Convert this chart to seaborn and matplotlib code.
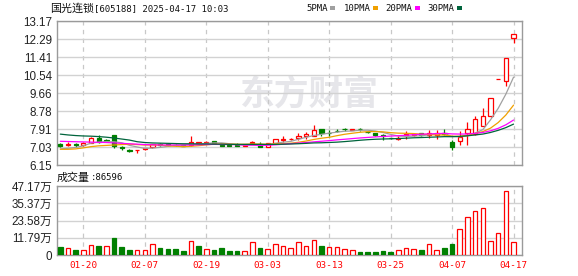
import numpy as np
import pandas as pd
import matplotlib
matplotlib.use("Agg")
import matplotlib.pyplot as plt
import seaborn as sns

# ---------------- data ----------------
dates = ["01-15", "01-16", "01-17", "01-20", "01-21", "01-22", "01-23", "01-24", "01-27",
         "02-05", "02-06", "02-07", "02-10", "02-11", "02-12", "02-13", "02-14", "02-17",
         "02-18", "02-19", "02-20", "02-21", "02-24", "02-25", "02-26", "02-27", "02-28",
         "03-03", "03-04", "03-05", "03-06", "03-07", "03-10", "03-11", "03-12", "03-13",
         "03-14", "03-17", "03-18", "03-19", "03-20", "03-21", "03-24", "03-25", "03-26",
         "03-27", "03-28", "03-31", "04-01", "04-02", "04-03", "04-07", "04-08", "04-09",
         "04-10", "04-11", "04-14", "04-15", "04-16", "04-17"]

opens = [7.18, 7.12, 7.18, 7.14, 7.26, 7.46, 7.40, 7.62, 7.02, 6.89,
         6.90, 6.93, 7.02, 7.19, 7.18, 7.15, 7.13, 7.12, 7.26, 7.26,
         7.33, 7.14, 7.12, 7.12, 7.09, 7.25, 7.18, 7.06, 7.24, 7.40,
         7.42, 7.48, 7.56, 7.59, 7.91, 7.74, 7.84, 7.92, 7.86, 7.92,
         7.77, 7.72, 7.65, 7.48, 7.43, 7.62, 7.61, 7.72, 7.62, 7.62,
         7.72, 7.31, 7.34, 7.74, 7.66, 8.07, 8.53, 10.35, 10.27, 12.34]
highs = [7.22, 7.28, 7.23, 7.30, 7.52, 7.62, 7.44, 7.64, 7.10, 6.95,
         6.91, 7.01, 7.20, 7.26, 7.20, 7.18, 7.15, 7.57, 7.31, 7.33,
         7.33, 7.16, 7.13, 7.25, 7.14, 7.35, 7.27, 7.24, 7.43, 7.56,
         7.46, 7.72, 7.75, 8.12, 7.91, 7.88, 7.91, 7.99, 7.93, 7.96,
         7.78, 7.72, 7.66, 7.49, 7.56, 7.84, 7.72, 7.73, 7.88, 7.86,
         7.91, 7.38, 7.81, 8.24, 8.53, 8.93, 9.41, 10.35, 11.39, 12.53]
lows = [7.02, 7.09, 7.06, 7.08, 7.24, 7.25, 7.30, 6.98, 6.90, 6.78,
        6.76, 6.92, 7.00, 7.10, 7.11, 7.10, 7.09, 7.11, 7.18, 7.17,
        7.22, 7.09, 7.08, 7.07, 7.08, 7.17, 7.04, 7.04, 7.22, 7.27,
        7.40, 7.40, 7.43, 7.56, 7.56, 7.56, 7.75, 7.83, 7.85, 7.81,
        7.73, 7.60, 7.37, 7.44, 7.37, 7.45, 7.58, 7.60, 7.50, 7.42,
        7.62, 6.92, 7.13, 7.13, 7.62, 8.05, 8.50, 10.35, 10.03, 12.09]
closes = [7.09, 7.20, 7.14, 7.24, 7.49, 7.31, 7.34, 7.10, 7.00, 6.87,
          6.91, 6.99, 7.18, 7.16, 7.13, 7.12, 7.11, 7.31, 7.27, 7.28,
          7.25, 7.11, 7.10, 7.09, 7.12, 7.27, 7.06, 7.22, 7.42, 7.43,
          7.44, 7.59, 7.69, 7.86, 7.72, 7.73, 7.83, 7.91, 7.92, 7.90,
          7.75, 7.62, 7.56, 7.46, 7.49, 7.66, 7.70, 7.63, 7.71, 7.72,
          7.70, 7.04, 7.54, 7.92, 8.40, 8.55, 9.41, 10.35, 11.39, 12.53]
prev_close_before = 7.13

# volume in 万 shares
volumes = [5.5, 4.6, 3.4, 3.4, 6.6, 6.2, 6.2, 11.6, 5.5, 3.4,
           3.4, 3.4, 7.3, 4.8, 4.3, 4.3, 2.7, 9.3, 6.2, 3.9,
           3.4, 4.8, 2.7, 2.7, 2.5, 8.7, 4.8, 3.9, 7.3, 5.9,
           4.6, 8.7, 5.9, 10.0, 6.2, 5.2, 5.2, 3.9, 3.2, 2.1,
           2.1, 2.1, 2.7, 2.1, 3.2, 4.6, 3.9, 3.4, 7.3, 3.2,
           4.8, 7.5, 17.8, 25.7, 29.8, 31.9, 9.3, 14.8, 43.5, 8.66]

# moving-average values before each window is complete
ma5_lead = [6.95, 6.98, 7.02, 7.10]
ma10_lead = [6.93, 6.93, 6.95, 7.00, 7.06, 7.10, 7.12, 7.14, 7.16]
ma20_lead = [7.32, 7.31, 7.30, 7.29, 7.28, 7.27, 7.26, 7.24, 7.22, 7.20,
             7.18, 7.16, 7.15, 7.14, 7.14, 7.14, 7.14, 7.14, 7.15]
ma30_lead = [7.67, 7.63, 7.60, 7.58, 7.57, 7.55, 7.52, 7.48, 7.43, 7.38,
             7.30, 7.26, 7.24, 7.23, 7.22, 7.21, 7.20, 7.20, 7.19, 7.19,
             7.18, 7.18, 7.17, 7.17, 7.17, 7.17, 7.17, 7.17, 7.17]

price_ticks = [6.15, 7.03, 7.91, 8.78, 9.66, 10.54, 11.41, 12.29, 13.17]
price_labels = ["6.15", "7.03", "7.91", "8.78", "9.66", "10.54", "11.41", "12.29", "13.17"]
vol_ticks = [0, 11.79, 23.58, 35.37, 47.17]
vol_labels = ["0", "11.79万", "23.58万", "35.37万", "47.17万"]
date_ticks = ["01-20", "02-07", "02-19", "03-03", "03-13", "03-25", "04-07", "04-17"]

title_name = "国光连锁"
title_rest = "[605188] 2025-04-17 10:03"
vol_title = "成交量"
vol_value = ":86596"
ma_names = ["5PMA", "10PMA", "20PMA", "30PMA"]

# ---------------- derived ----------------
df = pd.DataFrame({"date": dates, "open": opens, "high": highs, "low": lows,
                   "close": closes, "vol": volumes})
df["x"] = np.arange(len(df))
prev = df["close"].shift(1).fillna(prev_close_before)
df["up"] = (df["close"] > df["open"]) | ((df["close"] == df["open"]) & (df["close"] >= prev))
df["vol_up"] = df["close"] >= prev
for n, lead in [(5, ma5_lead), (10, ma10_lead), (20, ma20_lead), (30, ma30_lead)]:
    m = df["close"].rolling(n).mean()
    m.iloc[:n - 1] = lead
    df[f"ma{n}"] = m

# ---------------- style ----------------
sns.set_theme(style="white")
plt.rcParams["font.family"] = ["Liberation Sans", "Noto Sans CJK SC"]
plt.rcParams["axes.unicode_minus"] = False

RED = "#ff0000"
GREEN = "#008000"
MA_COLORS = ["#a0a0a0", "#f0a000", "#ff00ff", "#00643c"]
GRID = "#d2d2d2"
SPINE = "#9a9a9a"
W, H = 578, 276

fig = plt.figure(figsize=(W / 100, H / 100), dpi=100, facecolor="white")
axp = fig.add_axes([57 / W, 1 - 165.3 / H, 465 / W, 144 / H])
axv = fig.add_axes([57 / W, 1 - 255 / H, 465 / W, 69 / H])

xlim = (-0.43, 60.1)
tick_pos = [dates.index(d) for d in date_ticks]

for ax in (axp, axv):
    ax.set_facecolor("white")
    ax.set_xlim(*xlim)
    ax.set_axisbelow(True)
    for s in ax.spines.values():
        s.set_color(SPINE)
        s.set_linewidth(1.0)
        s.set_visible(True)
    ax.set_xticks(tick_pos)
    ax.grid(axis="x", color="#c8c8c8", lw=0.9, ls=(0, (3.5, 3.5)))
    ax.grid(axis="y", color=GRID, lw=1.0, ls="-")
    ax.tick_params(length=0)

# ---- price panel ----
axp.set_ylim(6.15, 13.17)
axp.set_yticks(price_ticks)
axp.set_yticklabels(price_labels)
axp.tick_params(axis="y", labelsize=8.4, pad=3.6, labelcolor="#222222")
axp.tick_params(axis="x", labelbottom=False)

axp.text(309 / W, 1 - 94 / H, "东方财富", transform=fig.transFigure,
         fontsize=25, fontweight="bold", color="#e6e6ea", ha="center", va="center",
         family=["Noto Sans CJK SC"], zorder=0.2)

bw = 0.55
body_lo = np.minimum(df["open"], df["close"])
body_hi = np.maximum(df["open"], df["close"])
for up, face, edge in [(True, "white", RED), (False, GREEN, GREEN)]:
    d = df[df["up"] == up]
    lo = body_lo[df["up"] == up]
    hi = body_hi[df["up"] == up]
    axp.vlines(d["x"], d["low"], lo, color=edge, lw=0.9, zorder=2)
    axp.vlines(d["x"], hi, d["high"], color=edge, lw=0.9, zorder=2)
    axp.bar(d["x"], hi - lo, bottom=lo, width=bw, facecolor=face,
            edgecolor=edge, linewidth=0.9, zorder=3)

for n, c in zip([5, 10, 20, 30], MA_COLORS):
    sns.lineplot(data=df, x="x", y=f"ma{n}", ax=axp, color=c, lw=0.9, zorder=4)
axp.set_xlabel("")
axp.set_ylabel("")
axp.set_xlim(*xlim)

# ---- volume panel ----
axv.set_ylim(0, 47.17)
axv.set_yticks(vol_ticks)
axv.set_yticklabels(vol_labels)
axv.tick_params(axis="y", labelsize=8.4, pad=3.6, labelcolor="#222222")
axv.set_xticklabels(date_ticks)
axv.tick_params(axis="x", labelsize=6.7, pad=4.0, labelcolor=RED)
for lab in axv.get_xticklabels():
    lab.set_family(["DejaVu Sans Mono"])
for up, face, edge in [(True, "white", RED), (False, GREEN, GREEN)]:
    d = df[df["vol_up"] == up]
    axv.bar(d["x"], d["vol"], width=0.6, facecolor=face, edgecolor=edge,
            linewidth=0.9, zorder=3)

# ---- texts ----
def fx(x):
    return x / W

def fy(y):
    return 1 - y / H

fig.text(fx(50), fy(8.5), title_name, fontsize=7.9, family=["Noto Sans CJK SC"],
         color="#111111", va="center", ha="left")
fig.text(fx(94.5), fy(8.5), title_rest, fontsize=6.5, family=["DejaVu Sans Mono"],
         color="#111111", va="center", ha="left")

leg_x = [306, 344, 385, 427]
sq_x = [330, 373, 415, 457]
for name, lx, sx, c in zip(ma_names, leg_x, sq_x, MA_COLORS):
    fig.text(fx(lx), fy(8.5), name, fontsize=6.5, family=["DejaVu Sans Mono"],
             color="#111111", va="center", ha="left")
    fig.patches.append(plt.Rectangle((fx(sx), fy(10)), 5 / W, 3.5 / H,
                                     transform=fig.transFigure, facecolor=c,
                                     edgecolor="none"))

fig.text(fx(57), fy(177.5), vol_title, fontsize=7.9, family=["Noto Sans CJK SC"],
         color="#111111", va="center", ha="left")
fig.text(fx(90.5), fy(177.5), vol_value, fontsize=6.5, family=["DejaVu Sans Mono"],
         color="#111111", va="center", ha="left")

fig.savefig("out.png", dpi=100, facecolor="white")
